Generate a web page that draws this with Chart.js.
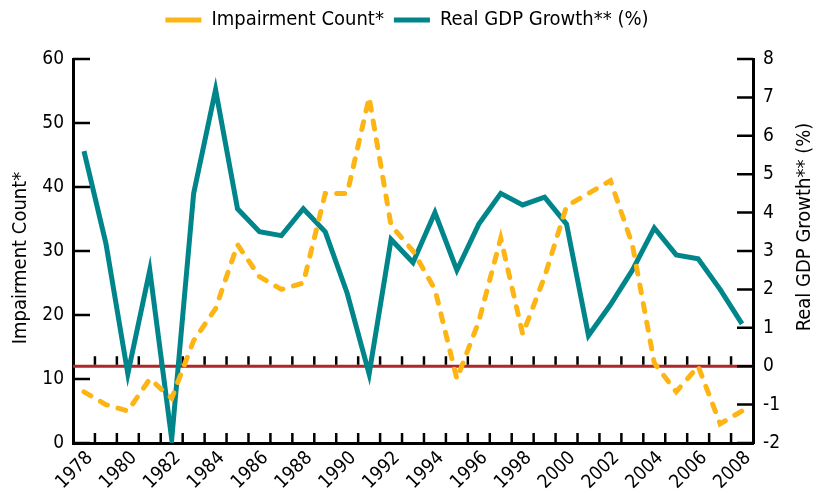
<!DOCTYPE html>
<html>
<head>
<meta charset="utf-8">
<script src="https://cdn.jsdelivr.net/npm/chart.js@4.4.1/dist/chart.umd.min.js"></script>
<style>
  html, body { margin: 0; padding: 0; background: #fff; }
  canvas { display: block; }
</style>
</head>
<body>
<canvas id="chart" width="814" height="489"></canvas>
<script>
const years = [1978, 1979, 1980, 1981, 1982, 1983, 1984, 1985, 1986, 1987,
  1988, 1989, 1990, 1991, 1992, 1993, 1994, 1995, 1996, 1997,
  1998, 1999, 2000, 2001, 2002, 2003, 2004, 2005, 2006, 2007, 2008];
const impairmentCount = [8, 6, 5, 10, 7, 16, 21, 31, 26, 24,
  25, 39, 39, 54, 34, 30, 24, 10, 19, 32,
  17, 26, 37, 39, 41, 31, 12.5, 8, 12, 3, 5];
const gdpGrowth = [5.6, 3.2, -0.2, 2.5, -1.9, 4.5, 7.2, 4.1, 3.5, 3.4,
  4.1, 3.5, 1.9, -0.2, 3.3, 2.7, 4.0, 2.5, 3.7, 4.5,
  4.2, 4.4, 3.7, 0.8, 1.6, 2.5, 3.6, 2.9, 2.8, 2.0, 1.1];
const countTicks = [0, 10, 20, 30, 40, 50, 60];
const gdpTicks = [-2, -1, 0, 1, 2, 3, 4, 5, 6, 7, 8];
const countTitle = 'Impairment Count*';
const gdpTitle = 'Real GDP Growth** (%)';

const FONT = "'Liberation Sans Narrow', 'DejaVu Sans Condensed', 'Liberation Sans', sans-serif";
const orange = '#FDB515';
const teal = '#00868A';

// inward tick marks, zero line and the two axis titles
const axisMarks = {
  id: 'axisMarks',
  beforeInit(chart) {
    const fit = chart.legend.fit;
    chart.legend.fit = function () {
      fit.call(this);
      this.height = 59;
    };
  },
  beforeDatasetsDraw(chart) {
    const { ctx, chartArea: a, scales: { x, y, y1 } } = chart;
    const zeroY = y1.getPixelForValue(0);
    ctx.save();
    ctx.strokeStyle = '#B0262A';
    ctx.lineWidth = 3;
    ctx.beginPath();
    ctx.moveTo(a.left, zeroY);
    ctx.lineTo(a.right, zeroY);
    ctx.stroke();

    ctx.strokeStyle = '#000';
    ctx.lineWidth = 2.5;
    ctx.beginPath();
    countTicks.forEach(v => {
      const py = y.getPixelForValue(v);
      ctx.moveTo(a.left, py);
      ctx.lineTo(a.left + 17, py);
    });
    gdpTicks.forEach(v => {
      const py = y1.getPixelForValue(v);
      ctx.moveTo(a.right, py);
      ctx.lineTo(a.right - 16, py);
    });
    for (let i = 1; i < years.length; i++) {
      const px = (x.getPixelForTick(i - 1) + x.getPixelForTick(i)) / 2;
      ctx.moveTo(px, a.bottom);
      ctx.lineTo(px, a.bottom - 10);
      ctx.moveTo(px, zeroY - 1.5);
      ctx.lineTo(px, zeroY - 10);
    }
    ctx.stroke();
    ctx.restore();
  },
  afterDraw(chart) {
    const { ctx } = chart;
    ctx.save();
    ctx.fillStyle = '#000';
    ctx.font = '20px ' + FONT;
    ctx.textAlign = 'center';
    ctx.textBaseline = 'middle';
    ctx.translate(21, 258);
    ctx.rotate(-Math.PI / 2);
    ctx.fillText(countTitle, 0, 0);
    ctx.restore();

    ctx.save();
    ctx.fillStyle = '#000';
    ctx.font = '20px ' + FONT;
    ctx.textAlign = 'center';
    ctx.textBaseline = 'middle';
    ctx.translate(805, 227);
    ctx.rotate(-Math.PI / 2);
    ctx.fillText(gdpTitle, 0, 0);
    ctx.restore();
  }
};

Chart.defaults.font.family = FONT;
Chart.defaults.color = '#000';

new Chart(document.getElementById('chart'), {
  type: 'line',
  data: {
    labels: years,
    datasets: [
      {
        label: 'Impairment Count*',
        data: impairmentCount,
        yAxisID: 'y',
        borderColor: orange,
        backgroundColor: orange,
        borderWidth: 5,
        borderDash: [8, 11],
        borderCapStyle: 'round',
        pointRadius: 0,
        tension: 0
      },
      {
        label: 'Real GDP Growth** (%)',
        data: gdpGrowth,
        yAxisID: 'y1',
        borderColor: teal,
        backgroundColor: teal,
        borderWidth: 5,
        borderJoinStyle: 'miter',
        pointRadius: 0,
        tension: 0
      }
    ]
  },
  options: {
    responsive: false,
    animation: false,
    devicePixelRatio: 1,
    layout: { padding: 0 },
    plugins: {
      legend: {
        position: 'top',
        labels: {
          usePointStyle: true,
          pointStyle: 'line',
          pointStyleWidth: 36,
          boxWidth: 36,
          boxHeight: 20,
          padding: 10,
          font: { size: 20 },
          color: '#000'
        }
      },
      tooltip: { enabled: false }
    },
    scales: {
      x: {
        type: 'category',
        offset: true,
        afterFit: s => { s.height = 46; },
        border: { display: true, color: '#000', width: 3 },
        grid: { display: false, offset: true, drawTicks: false },
        ticks: {
          autoSkip: false,
          maxRotation: 45,
          minRotation: 45,
          padding: 4,
          labelOffset: 6,
          font: { size: 19 },
          callback: (v, i) => (years[i] % 2 === 0 ? String(years[i]) : '')
        }
      },
      y: {
        position: 'left',
        min: 0,
        max: 60,
        afterFit: s => { s.width = 73; },
        afterBuildTicks: s => { s.ticks = countTicks.map(v => ({ value: v })); },
        border: { display: true, color: '#000', width: 3 },
        grid: { display: false, drawTicks: false },
        ticks: { padding: 9, font: { size: 19 } }
      },
      y1: {
        position: 'right',
        min: -2,
        max: 8,
        afterFit: s => { s.width = 61; },
        afterBuildTicks: s => { s.ticks = gdpTicks.map(v => ({ value: v })); },
        border: { display: true, color: '#000', width: 3 },
        grid: { display: false, drawTicks: false },
        ticks: { padding: 10, font: { size: 19 } }
      }
    }
  },
  plugins: [axisMarks]
});
</script>
</body>
</html>
